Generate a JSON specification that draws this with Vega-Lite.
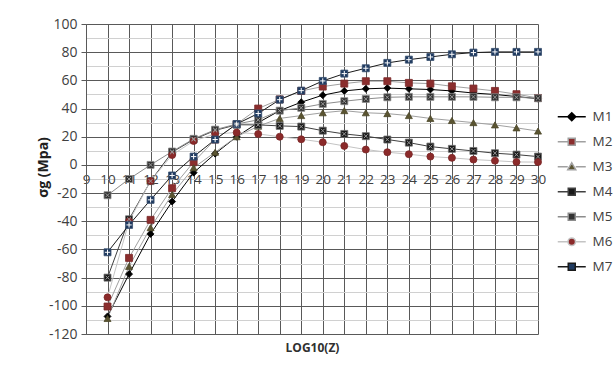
{
  "$schema": "https://vega.github.io/schema/vega-lite/v6.json",
  "width": 452,
  "height": 310,
  "autosize": {"type": "none"},
  "padding": {"left": 86, "top": 24, "right": 78, "bottom": 40},
  "background": "white",
  "config": {"view": {"stroke": null}, "font": "Open Sans"},
  "data": {
    "values": [
      {"x": 10, "M1": -107.5, "M2": -100.5, "M3": -109, "M4": -80, "M5": -21.5, "M6": -94, "M7": -62},
      {"x": 11, "M1": -77.5, "M2": -66, "M3": -72, "M4": -38.6, "M5": -10, "M6": -40, "M7": -42.6},
      {"x": 12, "M1": -49, "M2": -39, "M3": -44.5, "M4": -11.5, "M5": 0, "M6": -11.4, "M7": -24.8},
      {"x": 13, "M1": -26, "M2": -16.5, "M3": -21, "M4": 9, "M5": 9.5, "M6": 7, "M7": -7.5},
      {"x": 14, "M1": -5.5, "M2": 2, "M3": -2, "M4": 18, "M5": 18.5, "M6": 17, "M7": 5.9},
      {"x": 15, "M1": 8, "M2": 18, "M3": 9, "M4": 24.5, "M5": 25, "M6": 22, "M7": 18},
      {"x": 16, "M1": 20, "M2": 29, "M3": 20, "M4": 28.5, "M5": 29, "M6": 23, "M7": 29},
      {"x": 17, "M1": 30, "M2": 40, "M3": 27.5, "M4": 28.4, "M5": 32, "M6": 22, "M7": 36.5},
      {"x": 18, "M1": 38.5, "M2": 46.5, "M3": 33, "M4": 27.7, "M5": 38.5, "M6": 20, "M7": 46.3},
      {"x": 19, "M1": 44.5, "M2": 52.5, "M3": 35, "M4": 27.2, "M5": 40.5, "M6": 18.2, "M7": 52.7},
      {"x": 20, "M1": 49.5, "M2": 55.6, "M3": 37, "M4": 24.3, "M5": 43.3, "M6": 16.1, "M7": 59.6},
      {"x": 21, "M1": 52.5, "M2": 57.7, "M3": 38.5, "M4": 22, "M5": 45.2, "M6": 13.5, "M7": 64.8},
      {"x": 22, "M1": 54, "M2": 59.4, "M3": 37, "M4": 20.4, "M5": 46.8, "M6": 10.9, "M7": 68.6},
      {"x": 23, "M1": 54.5, "M2": 59.4, "M3": 36.4, "M4": 18, "M5": 48, "M6": 9, "M7": 72.4},
      {"x": 24, "M1": 54, "M2": 58.2, "M3": 35, "M4": 15.8, "M5": 48.3, "M6": 7.6, "M7": 74.7},
      {"x": 25, "M1": 53.5, "M2": 57.7, "M3": 33, "M4": 13, "M5": 48.3, "M6": 5.9, "M7": 76.6},
      {"x": 26, "M1": 52.5, "M2": 55.8, "M3": 31.5, "M4": 11.4, "M5": 48.3, "M6": 5, "M7": 78.5},
      {"x": 27, "M1": 51, "M2": 54.2, "M3": 30, "M4": 9.9, "M5": 48.3, "M6": 3.8, "M7": 79.7},
      {"x": 28, "M1": 50, "M2": 52.5, "M3": 28.4, "M4": 8.3, "M5": 48, "M6": 3, "M7": 80.2},
      {"x": 29, "M1": 48.5, "M2": 50.2, "M3": 26.3, "M4": 7.3, "M5": 48, "M6": 2.1, "M7": 80.2},
      {"x": 30, "M1": 47, "M2": 47.5, "M3": 24, "M4": 5.9, "M5": 47.3, "M6": 2, "M7": 80.2}
    ]
  },
  "transform": [{"fold": ["M1", "M2", "M3", "M4", "M5", "M6", "M7"], "as": ["s", "v"]}],
  "encoding": {
    "x": {
      "field": "x",
      "type": "quantitative",
      "scale": {"domain": [9, 30], "nice": false, "zero": false},
      "axis": {
        "values": [9, 10, 11, 12, 13, 14, 15, 16, 17, 18, 19, 20, 21, 22, 23, 24, 25, 26, 27, 28, 29, 30],
        "offset": -169,
        "grid": true,
        "gridColor": "#595959",
        "gridWidth": 1,
        "domain": false,
        "tickColor": "#595959",
        "tickSize": 5,
        "labelFontSize": 13.5,
        "labelColor": "#404040",
        "labelPadding": 2,
        "labelFlush": false,
        "labelOverlap": false,
        "title": "LOG10(Z)",
        "titleFontSize": 12,
        "titleFontWeight": "bold",
        "titleColor": "#303030",
        "titleY": 182,
        "titleBaseline": "middle"
      }
    },
    "y": {
      "field": "v",
      "type": "quantitative",
      "scale": {"domain": [-120, 100], "nice": false, "zero": false},
      "axis": {
        "values": [-120, -110, -100, -90, -80, -70, -60, -50, -40, -30, -20, -10, 0, 10, 20, 30, 40, 50, 60, 70, 80, 90, 100],
        "grid": true,
        "gridColor": {"condition": {"test": "datum.value % 20 === 0", "value": "#595959"}, "value": "#d0d0d0"},
        "gridWidth": 1,
        "domain": true,
        "domainColor": "#595959",
        "tickColor": "#595959",
        "tickOpacity": {"condition": {"test": "datum.value % 20 === 0", "value": 1}, "value": 0},
        "tickSize": 5,
        "labelExpr": "datum.value % 20 === 0 ? '' + datum.value : ''",
        "labelFontSize": 14,
        "labelColor": "#404040",
        "labelPadding": 4,
        "labelFlush": false,
        "labelOverlap": false,
        "title": "σg (Mpa)",
        "titleFontSize": 14,
        "titleFontWeight": "bold",
        "titleColor": "#202020",
        "titleX": -43,
        "titleY": 143,
        "titleAngle": 270,
        "titleAlign": "center",
        "titleBaseline": "middle"
      }
    }
  },
  "layer": [
    {
      "mark": {"type": "line", "strokeWidth": 1},
      "encoding": {
        "stroke": {
          "field": "s",
          "type": "nominal",
          "scale": {"domain": ["M1", "M2", "M3", "M4", "M5", "M6", "M7"], "range": ["#000000", "#a0a0a0", "#a0a0a0", "#404040", "#8c8c8c", "#c4c4c4", "#1a1a1a"]},
          "legend": null
        }
      }
    },
    {
      "mark": {"type": "point", "filled": true, "size": 49, "strokeWidth": 0.8, "opacity": 1},
      "encoding": {
        "fill": {
          "field": "s",
          "type": "nominal",
          "scale": {"domain": ["M1", "M2", "M3", "M4", "M5", "M6", "M7"], "range": ["#000000", "#8b2e2e", "#5a5431", "#1a1a1a", "#333333", "#8b2a2a", "#1f3a60"]},
          "legend": null
        },
        "stroke": {
          "field": "s",
          "type": "nominal",
          "scale": {"domain": ["M1", "M2", "M3", "M4", "M5", "M6", "M7"], "range": ["#000000", "#7a2828", "#4d482a", "#707070", "#8c8c8c", "#7a2626", "#3a5070"]},
          "legend": null
        },
        "shape": {
          "field": "s",
          "type": "nominal",
          "scale": {"domain": ["M1", "M2", "M3", "M4", "M5", "M6", "M7"], "range": ["diamond", "square", "triangle-up", "square", "square", "circle", "square"]},
          "legend": null
        }
      }
    },
    {
      "transform": [{"filter": {"field": "s", "oneOf": ["M4", "M5"]}}],
      "mark": {"type": "point", "filled": false, "size": 49, "shape": "M-0.55,-0.55L0.55,0.55M0.55,-0.55L-0.55,0.55", "stroke": "#9a9a9a", "strokeWidth": 1, "opacity": 1},
      "encoding": {}
    },
    {
      "transform": [{"filter": {"field": "s", "equal": "M7"}}],
      "mark": {"type": "point", "filled": false, "size": 49, "shape": "M-0.75,0H0.75M0,-0.75V0.75", "stroke": "#ffffff", "strokeWidth": 1, "opacity": 1},
      "encoding": {}
    },
    {
      "transform": [{"filter": "datum.x > 1000"}],
      "mark": {"type": "point", "filled": true, "size": 100, "strokeWidth": 1, "opacity": 1},
      "encoding": {
        "fill": {
          "field": "s",
          "type": "nominal",
          "scale": {"domain": ["M1", "M2", "M3", "M4", "M5", "M6", "M7"], "range": ["#000000", "#8b2e2e", "#5a5431", "#1a1a1a", "#333333", "#8b2a2a", "#1f3a60"]},
          "legend": {
            "orient": "none",
            "legendX": 479,
            "legendY": 86,
            "title": null,
            "symbolSize": 100,
            "labelOffset": 14,
            "labelFontSize": 13.5,
            "labelColor": "#404040",
            "rowPadding": 10
          }
        },
        "stroke": {
          "field": "s",
          "type": "nominal",
          "scale": {"domain": ["M1", "M2", "M3", "M4", "M5", "M6", "M7"], "range": ["#000000", "#a0a0a0", "#a0a0a0", "#404040", "#8c8c8c", "#c4c4c4", "#1a1a1a"]},
          "legend": {
            "orient": "none",
            "legendX": 479,
            "legendY": 86,
            "title": null,
            "symbolSize": 100,
            "labelOffset": 14,
            "labelFontSize": 13.5,
            "labelColor": "#404040",
            "rowPadding": 10
          }
        },
        "shape": {
          "field": "s",
          "type": "nominal",
          "scale": {
            "domain": ["M1", "M2", "M3", "M4", "M5", "M6", "M7"],
            "range": [
              "M-2.8,0H-0.8M0.8,0H2.8M0,-0.8L0.8,0L0,0.8L-0.8,0Z",
              "M-2.8,0H-0.7M0.7,0H2.8M-0.7,-0.7H0.7V0.7H-0.7Z",
              "M-2.8,0H-0.8M0.8,0H2.8M0,-0.8L0.8,0.6H-0.8Z",
              "M-2.8,0H-0.7M0.7,0H2.8M-0.7,-0.7H0.7V0.7H-0.7Z",
              "M-2.8,0H-0.7M0.7,0H2.8M-0.7,-0.7H0.7V0.7H-0.7Z",
              "M-2.8,0H-0.75M0.75,0H2.8M0.75,0A0.75,0.75,0,1,1,-0.75,0A0.75,0.75,0,1,1,0.75,0Z",
              "M-2.8,0H-0.7M0.7,0H2.8M-0.7,-0.7H0.7V0.7H-0.7Z"
            ]
          },
          "legend": {
            "orient": "none",
            "legendX": 479,
            "legendY": 86,
            "title": null,
            "symbolSize": 100,
            "labelOffset": 14,
            "labelFontSize": 13.5,
            "labelColor": "#404040",
            "rowPadding": 10
          }
        }
      }
    }
  ],
  "resolve": {"scale": {"shape": "independent", "fill": "independent", "stroke": "independent"}}
}
